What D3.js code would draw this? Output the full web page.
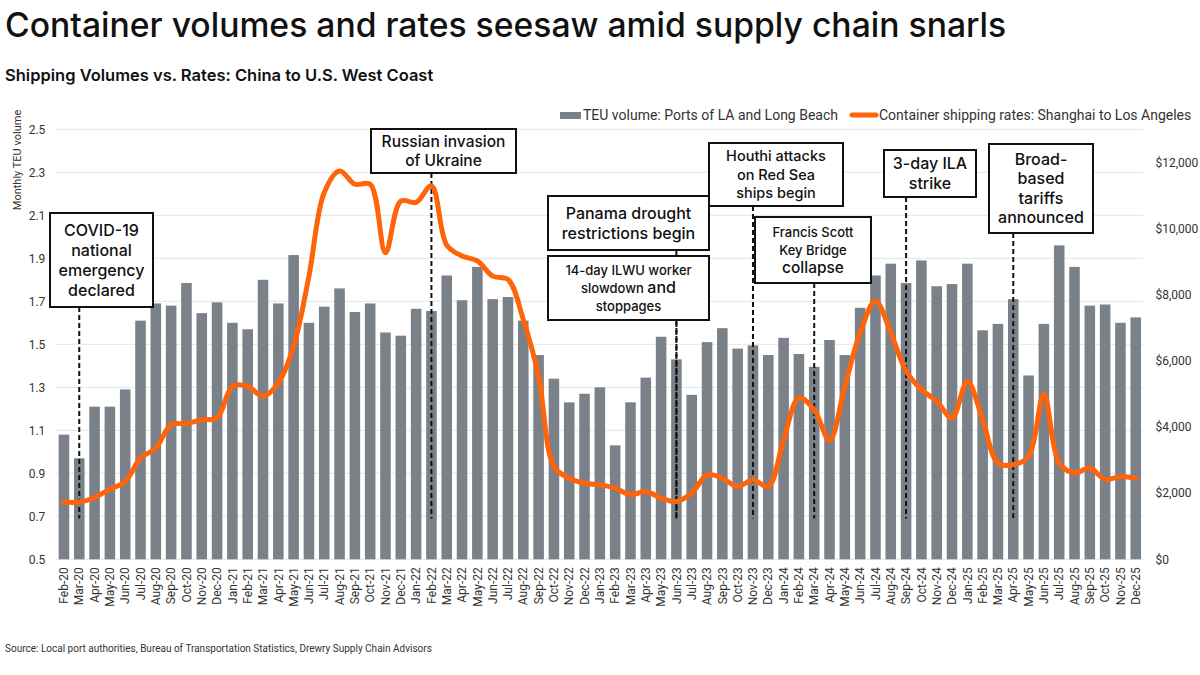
<!DOCTYPE html>
<html>
<head>
<meta charset="utf-8">
<script src="https://cdn.jsdelivr.net/npm/d3@7"></script>
<style>
  body { margin: 0; background: #fff; }
  svg { display: block; }
  .tick-label { font-family: Roboto, sans-serif; font-size: 12px; fill: #333; }
  .anno { font-family: Inter, sans-serif; font-weight: 500; fill: #111; }
</style>
</head>
<body>
<svg id="chart" width="1200" height="675"></svg>
<script>
// months on the x axis
var months = [
  "Feb-20","Mar-20","Apr-20","May-20","Jun-20","Jul-20","Aug-20","Sep-20","Oct-20","Nov-20","Dec-20",
  "Jan-21","Feb-21","Mar-21","Apr-21","May-21","Jun-21","Jul-21","Aug-21","Sep-21","Oct-21","Nov-21","Dec-21",
  "Jan-22","Feb-22","Mar-22","Apr-22","May-22","Jun-22","Jul-22","Aug-22","Sep-22","Oct-22","Nov-22","Dec-22",
  "Jan-23","Feb-23","Mar-23","Apr-23","May-23","Jun-23","Jul-23","Aug-23","Sep-23","Oct-23","Nov-23","Dec-23",
  "Jan-24","Feb-24","Mar-24","Apr-24","May-24","Jun-24","Jul-24","Aug-24","Sep-24","Oct-24","Nov-24","Dec-24",
  "Jan-25","Feb-25","Mar-25","Apr-25","May-25","Jun-25","Jul-25","Aug-25","Sep-25","Oct-25","Nov-25","Dec-25"
];

// TEU volume, millions (left axis)
var teuVolume = [
  1.08, 0.97, 1.21, 1.21, 1.29, 1.61, 1.69, 1.68, 1.785, 1.645, 1.695,
  1.60, 1.57, 1.80, 1.69, 1.915, 1.60, 1.675, 1.76, 1.65, 1.69, 1.555, 1.54,
  1.665, 1.655, 1.82, 1.705, 1.86, 1.71, 1.72, 1.61, 1.45, 1.34, 1.23, 1.27,
  1.30, 1.03, 1.23, 1.345, 1.535, 1.43, 1.265, 1.51, 1.575, 1.48, 1.495, 1.45,
  1.53, 1.455, 1.395, 1.52, 1.45, 1.67, 1.82, 1.875, 1.785, 1.89, 1.77, 1.78,
  1.875, 1.565, 1.595, 1.71, 1.355, 1.595, 1.96, 1.86, 1.68, 1.685, 1.60, 1.625
];

// container rate Shanghai -> LA, USD (right axis)
var shippingRate = [
  1730, 1730, 1870, 2120, 2350, 3060, 3360, 4070, 4100, 4220, 4270,
  5230, 5230, 4930, 5330, 6440, 8560, 11090, 11740, 11340, 11340, 9270, 10830,
  10790, 11290, 9500, 9170, 9020, 8560, 8460, 7250, 5530, 2810, 2450, 2300,
  2250, 2150, 1950, 2050, 1850, 1750, 2000, 2550, 2450, 2200, 2400, 2200,
  3610, 4880, 4520, 3600, 5230, 6850, 7810, 6850, 5690, 5130, 4780, 4270,
  5380, 4220, 2910, 2860, 3110, 4980, 2910, 2610, 2760, 2420, 2500, 2450
];

var leftTicks = [0.5, 0.7, 0.9, 1.1, 1.3, 1.5, 1.7, 1.9, 2.1, 2.3, 2.5];
var rightTicks = [0, 2000, 4000, 6000, 8000, 10000, 12000];

// event annotations
var eventMonths = ["Mar-20", "Feb-22", "Jun-23", "Jun-23", "Nov-23", "Mar-24", "Sep-24", "Apr-25"];
var eventLines = [
  ["COVID-19", "national", "emergency", "declared"],
  ["Russian invasion", "of Ukraine"],
  ["Panama drought", "restrictions begin"],
  ["14-day ILWU worker", "slowdown |and", "stoppages"],
  ["Houthi attacks", "on Red Sea", "ships begin"],
  ["Francis Scott", "Key Bridge", "collapse"],
  ["3-day ILA", "strike"],
  ["Broad-", "based", "tariffs", "announced"]
];

// box layout for each annotation: left, top, width, height, font sizes
var boxLayout = [
  {x: 50, y: 213, w: 103, h: 94, fs: [16, 16, 16, 16], lh: 20},
  {x: 371, y: 129, w: 145, h: 44, fs: [15.5, 15.5], lh: 19},
  {x: 548, y: 196, w: 161, h: 54, fs: [16, 16], lh: 20},
  {x: 548, y: 256, w: 161, h: 64, fs: [13, 13, 13], lh: 18, big: 16},
  {x: 709, y: 143, w: 134, h: 63, fs: [14.5, 14.5, 14.5], lh: 18.5},
  {x: 755, y: 217, w: 116, h: 66, fs: [13, 13, 15.5], lh: 18},
  {x: 884, y: 150, w: 92, h: 47, fs: [16, 16], lh: 19.5},
  {x: 989, y: 144, w: 104, h: 89, fs: [16, 16, 16, 16], lh: 19.5}
];

var svg = d3.select("#chart");
var plotLeft = 56.3, plotRight = 1143.4, plotTop = 129.3, plotBottom = 559.3;

var x = d3.scaleBand()
    .domain(months)
    .range([plotLeft, plotRight])
    .paddingInner(0.31)
    .paddingOuter(0.155);

var yLeft = d3.scaleLinear().domain([0.5, 2.5]).range([plotBottom, plotTop]);
var yRight = d3.scaleLinear().domain([0, 13000]).range([plotBottom, plotTop]);

// title + subtitle
svg.append("text")
    .attr("x", 5).attr("y", 37)
    .style("font-family", "Inter, sans-serif")
    .style("font-weight", 500)
    .style("font-size", "33.7px")
    .style("fill", "#111")
    .text("Container volumes and rates seesaw amid supply chain snarls");

svg.append("text")
    .attr("x", 5).attr("y", 81)
    .style("font-family", "Inter, sans-serif")
    .style("font-weight", 600)
    .style("font-size", "16.5px")
    .style("fill", "#111")
    .text("Shipping Volumes vs. Rates: China to U.S. West Coast");

// gridlines
svg.append("g")
    .selectAll("line")
    .data(leftTicks)
    .join("line")
    .attr("x1", plotLeft - 1).attr("x2", plotRight)
    .attr("y1", d => yLeft(d)).attr("y2", d => yLeft(d))
    .attr("stroke", "#e4e4e4")
    .attr("stroke-width", 1);

// left axis
var leftAxis = svg.append("g")
    .attr("transform", "translate(" + (plotLeft - 8) + ",0)")
    .call(d3.axisLeft(yLeft).tickValues(leftTicks).tickFormat(d3.format(".1f")).tickSize(0));
leftAxis.select(".domain").remove();
leftAxis.selectAll("text").attr("class", "tick-label");

// right axis
var rightAxis = svg.append("g")
    .attr("transform", "translate(" + (plotRight + 9) + ",0)")
    .call(d3.axisRight(yRight).tickValues(rightTicks)
        .tickFormat(d => "$" + d3.format(",")(d)).tickSize(0));
rightAxis.select(".domain").remove();
rightAxis.selectAll("text").attr("class", "tick-label");

// y axis title
svg.append("text")
    .attr("transform", "translate(21,160) rotate(-90)")
    .attr("text-anchor", "middle")
    .style("font-family", "Roboto, sans-serif")
    .style("font-size", "11px")
    .style("fill", "#333")
    .text("Monthly TEU volume");

// x axis
var xAxis = svg.append("g")
    .attr("transform", "translate(0," + (plotBottom + 4) + ")")
    .call(d3.axisBottom(x).tickSize(0));
xAxis.select(".domain").remove();
xAxis.selectAll("text")
    .attr("class", "tick-label")
    .attr("transform", "rotate(-90)")
    .attr("text-anchor", "end")
    .attr("x", -4)
    .attr("y", 0)
    .attr("dy", "0.35em");

// bars
svg.append("g")
    .selectAll("rect")
    .data(teuVolume)
    .join("rect")
    .attr("x", (d, i) => x(months[i]))
    .attr("width", x.bandwidth())
    .attr("y", d => yLeft(d))
    .attr("height", d => yLeft(0.5) - yLeft(d))
    .attr("fill", "#7a8189");

// dashed event lines
svg.append("g")
    .selectAll("line")
    .data(eventMonths)
    .join("line")
    .attr("x1", d => x(d) + x.bandwidth() / 2)
    .attr("x2", d => x(d) + x.bandwidth() / 2)
    .attr("y1", (d, i) => boxLayout[i].y + boxLayout[i].h)
    .attr("y2", yLeft(0.69))
    .attr("stroke", "#111")
    .attr("stroke-width", 2)
    .attr("stroke-dasharray", "5,3");

// rate line
var line = d3.line()
    .x((d, i) => x(months[i]) + x.bandwidth() / 2)
    .y(d => yRight(d))
    .curve(d3.curveCatmullRom.alpha(0.5));

svg.append("path")
    .datum(shippingRate)
    .attr("d", line)
    .attr("fill", "none")
    .attr("stroke", "#ff640a")
    .attr("stroke-width", 5)
    .attr("stroke-linejoin", "round")
    .attr("stroke-linecap", "round");

// annotation boxes
eventLines.forEach(function (lines, i) {
    var b = boxLayout[i];
    var g = svg.append("g");
    g.append("rect")
        .attr("x", b.x).attr("y", b.y)
        .attr("width", b.w).attr("height", b.h)
        .attr("fill", "#fff")
        .attr("stroke", "#111")
        .attr("stroke-width", 2);
    var n = lines.length;
    var firstY = b.y + b.h / 2 - (n - 1) * b.lh / 2;
    lines.forEach(function (ln, j) {
        var t = g.append("text")
            .attr("class", "anno")
            .attr("x", b.x + b.w / 2)
            .attr("y", firstY + j * b.lh)
            .attr("dy", "0.35em")
            .attr("text-anchor", "middle")
            .style("font-size", b.fs[j] + "px");
        var parts = ln.split("|");
        t.append("tspan").text(parts[0]);
        if (parts.length > 1) {
            t.append("tspan").style("font-size", b.big + "px").text(parts[1]);
        }
    });
});

// legend
var legend = svg.append("g").attr("transform", "translate(0,115)");
legend.append("rect")
    .attr("x", 560).attr("y", -3).attr("width", 21).attr("height", 7)
    .attr("fill", "#7a8189");
legend.append("text")
    .attr("x", 583).attr("y", 0).attr("dy", "0.35em")
    .style("font-family", "Roboto, sans-serif").style("font-size", "14px").style("fill", "#333")
    .text("TEU volume: Ports of LA and Long Beach");
legend.append("line")
    .attr("x1", 852).attr("x2", 876).attr("y1", 0).attr("y2", 0)
    .attr("stroke", "#ff640a").attr("stroke-width", 5).attr("stroke-linecap", "round");
legend.append("text")
    .attr("x", 879).attr("y", 0).attr("dy", "0.35em")
    .style("font-family", "Roboto, sans-serif").style("font-size", "14px").style("fill", "#333")
    .text("Container shipping rates: Shanghai to Los Angeles");

// source
svg.append("text")
    .attr("x", 5).attr("y", 652)
    .style("font-family", "Roboto, sans-serif")
    .style("font-size", "10px")
    .style("fill", "#333")
    .text("Source: Local port authorities, Bureau of Transportation Statistics, Drewry Supply Chain Advisors");
</script>
</body>
</html>
